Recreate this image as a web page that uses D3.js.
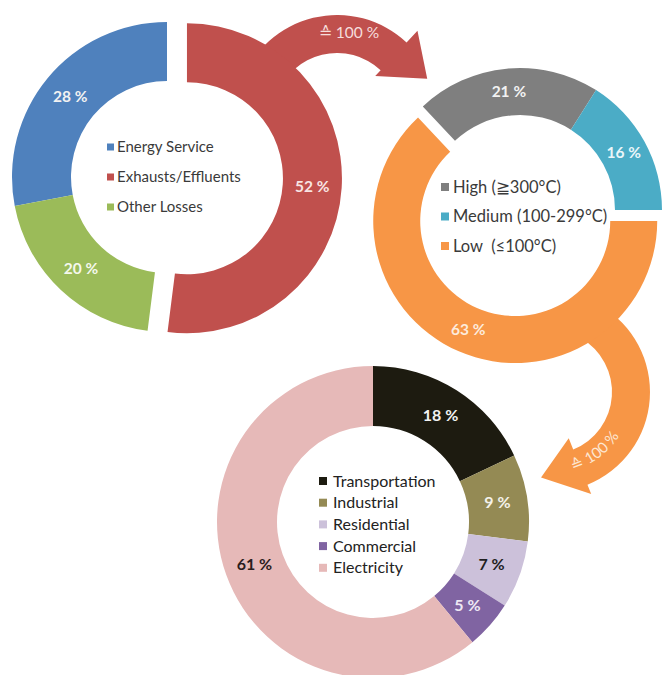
<!DOCTYPE html>
<html>
<head>
<meta charset="utf-8">
<script src="https://cdn.jsdelivr.net/npm/d3@7/dist/d3.min.js"></script>
<style>
  html, body { margin: 0; padding: 0; background: #fff; }
  svg { display: block; font-family: Lato, "Open Sans", sans-serif; }
  svg text { white-space: pre; }
</style>
</head>
<body>
<svg id="chart" width="667" height="675"></svg>
<script>
// Stage 1: where the primary energy goes
const lossCategories = ["Energy Service", "Exhausts/Effluents", "Other Losses"];
const lossValues = [28, 52, 20];
const lossColors = ["#4F81BD", "#C0504D", "#9BBB59"];

// Stage 2: temperature level of the waste heat
const heatCategories = ["High (\u2267300°C)", "Medium (100-299°C)", "Low  (\u2264100°C)"];
const heatValues = [21, 16, 63];
const heatColors = ["#7F7F7F", "#4BACC6", "#F79646"];

// Stage 3: sectors producing low-temperature waste heat
const useCategories = ["Transportation", "Industrial", "Residential", "Commercial", "Electricity"];
const useValues = [18, 9, 7, 5, 61];
const useColors = ["#1D1B10", "#948A54", "#CCC1DA", "#8064A2", "#E6B9B8"];

const arrowLabel = "\u2259 100 %";

const svg = d3.select("#chart");
const deg = Math.PI / 180;

// polar helper: angle measured clockwise from 12 o'clock, like d3.pie
function polar(cx, cy, r, a) {
  return [cx + r * Math.sin(a), cy - r * Math.cos(a)];
}

// thick curved arrow: annular band with a pointed head at its end
function curvedArrow(o) {
  const p = d3.path();
  const m = a => a - Math.PI / 2;
  const s = polar(o.cx, o.cy, o.rOut, o.a0);
  p.moveTo(s[0], s[1]);
  p.arc(o.cx, o.cy, o.rOut, m(o.a0), m(o.a1), false);
  const wo = polar(o.cx, o.cy, o.headOut, o.a1);
  const tip = polar(o.cx, o.cy, o.tipR, o.tipA);
  const wi = polar(o.cx, o.cy, o.headIn, o.a1);
  const bi = polar(o.cx, o.cy, o.rIn, o.a1);
  p.lineTo(wo[0], wo[1]);
  p.lineTo(tip[0], tip[1]);
  p.lineTo(wi[0], wi[1]);
  p.lineTo(bi[0], bi[1]);
  p.arc(o.cx, o.cy, o.rIn, m(o.a1), m(o.a0), true);
  p.closePath();
  return p.toString();
}

// donut with optional exploded slice, labels at the ring centroid and a legend in the hole
function donut(cfg) {
  const total = d3.sum(cfg.values);
  const pie = d3.pie().sort(null).value(d => d)
    .startAngle(cfg.start).endAngle(cfg.start + 2 * Math.PI);
  const arcs = pie(cfg.values);
  const arc = d3.arc().innerRadius(cfg.rIn).outerRadius(cfg.rOut);
  const g = svg.append("g").attr("transform", `translate(${cfg.cx},${cfg.cy})`);

  const slice = g.selectAll("g.slice").data(arcs).join("g")
    .attr("class", "slice")
    .attr("transform", (d, i) => {
      if (i !== cfg.explode) return null;
      const mid = (d.startAngle + d.endAngle) / 2;
      const [x, y] = polar(0, 0, cfg.offset, mid);
      return `translate(${x},${y})`;
    });

  slice.append("path")
    .attr("d", arc)
    .attr("fill", (d, i) => cfg.colors[i]);

  slice.append("text")
    .attr("transform", d => `translate(${arc.centroid(d)})`)
    .attr("text-anchor", "middle")
    .attr("dy", "0.35em")
    .attr("font-weight", 700)
    .attr("font-size", cfg.labelSize)
    .attr("fill", (d, i) => cfg.labelColors[i])
    .text(d => d3.format(".0f")(d.value / total * 100) + " %");

  const leg = g.append("g").attr("transform", `translate(${cfg.legX},${cfg.legY})`);
  const row = leg.selectAll("g").data(cfg.categories).join("g")
    .attr("transform", (d, i) => `translate(0,${i * cfg.legStep})`);
  row.append("rect")
    .attr("x", 0).attr("y", -cfg.sw / 2)
    .attr("width", cfg.sw).attr("height", cfg.sw)
    .attr("fill", (d, i) => cfg.colors[i]);
  row.append("text")
    .attr("x", cfg.sw + cfg.gap)
    .attr("dy", "0.35em")
    .attr("font-size", cfg.legSize)
    .attr("fill", cfg.legColor)
    .text(d => d);
}

// arrows sit beneath the donuts they leave from
const arrow1 = { cx: 337, cy: 117, rIn: 64, rOut: 102, a0: -70 * deg, a1: 43 * deg,
  headOut: 118, headIn: 56, tipA: 67 * deg, tipR: 98 };
svg.append("path").attr("d", curvedArrow(arrow1)).attr("fill", lossColors[1]);

const arrow2 = { cx: 550, cy: 392, rIn: 62, rOut: 100, a0: 30 * deg, a1: 158 * deg,
  headOut: 110, headIn: 50, tipA: 186 * deg, tipR: 86 };
svg.append("path").attr("d", curvedArrow(arrow2)).attr("fill", heatColors[2]);

donut({
  cx: 167, cy: 177, rIn: 96, rOut: 155,
  values: lossValues, categories: lossCategories, colors: lossColors,
  start: -lossValues[0] / d3.sum(lossValues) * 2 * Math.PI,
  explode: 1, offset: 20,
  labelSize: 15.5, labelColors: ["#F2F2F2", "#F8E4E3", "#F4F8EC"],
  legX: -60, legY: -30, legStep: 30, sw: 7, gap: 3, legSize: 15, legColor: "#3A3A3A"
});

donut({
  cx: 520, cy: 210, rIn: 95, rOut: 142,
  values: heatValues, categories: heatCategories, colors: heatColors,
  start: -43.2 * deg,
  explode: 2, offset: 12,
  labelSize: 15.5, labelColors: ["#F2F2F2", "#EAF6F9", "#FDEBDC"],
  legX: -79, legY: -23, legStep: 29.5, sw: 8, gap: 4, legSize: 16.5, legColor: "#3A3A3A"
});

donut({
  cx: 373, cy: 522, rIn: 96, rOut: 156,
  values: useValues, categories: useCategories, colors: useColors,
  start: 0,
  explode: -1, offset: 0,
  labelSize: 16, labelColors: ["#F2F2F2", "#F4F2EA", "#1F1F1F", "#EEE8F4", "#2B1D1D"],
  legX: -54, legY: -41, legStep: 21.7, sw: 8, gap: 6, legSize: 16, legColor: "#222222"
});

// arrow captions
svg.append("text")
  .attr("x", 349).attr("y", 33).attr("dy", "0.35em")
  .attr("text-anchor", "middle")
  .attr("font-size", 15.5)
  .attr("fill", "#F6DEDD")
  .text(arrowLabel);

const capR = 82;
const capPath = d3.path();
{
  const a = 170 * deg, b = 116 * deg;
  const s = polar(arrow2.cx, arrow2.cy, capR, a);
  capPath.moveTo(s[0], s[1]);
  capPath.arc(arrow2.cx, arrow2.cy, capR, a - Math.PI / 2, b - Math.PI / 2, true);
}
svg.append("path").attr("id", "cap2").attr("d", capPath.toString()).attr("fill", "none");
svg.append("text")
  .attr("font-size", 15)
  .attr("fill", "#FDE7D3")
  .append("textPath")
  .attr("href", "#cap2")
  .attr("startOffset", "50%")
  .attr("text-anchor", "middle")
  .text(arrowLabel);
</script>
</body>
</html>
